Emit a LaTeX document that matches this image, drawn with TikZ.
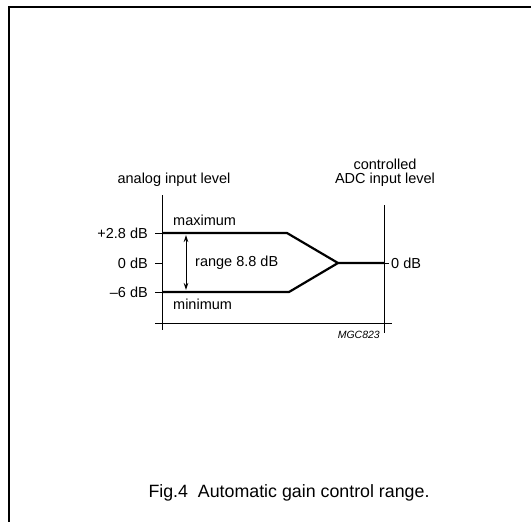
\documentclass[tikz,border=0pt]{standalone}
\usepackage{fontspec}
\setmainfont{Liberation Sans}
\usetikzlibrary{arrows.meta}
\begin{document}
\begin{tikzpicture}[x=1pt,y=-1pt,
  thinln/.style={line width=1pt},
  thickln/.style={line width=2.2pt},
  lbl/.style={inner sep=0pt,font=\fontsize{14.5}{16}\selectfont},
  frameln/.style={line width=2pt}]
\useasboundingbox (0,0) rectangle (531,522);
% frame
\coordinate (ftl) at (9,7);
\coordinate (ftr) at (531,7);
\coordinate (fbl) at (9,522);
\draw[frameln] (ftr) -- (ftl) -- (fbl);
% axes
\coordinate (lat) at (162,195);
\coordinate (lab) at (162,330);
\coordinate (rat) at (384,205);
\coordinate (rab) at (384,333);
\coordinate (bl) at (155,323);
\coordinate (br) at (392,323);
\draw[thinln] (lat) -- (lab);
\draw[thinln] (rat) -- (rab);
\draw[thinln] (bl) -- (br);
% ticks
\coordinate (tmax) at (155,233);
\coordinate (tzero) at (155,263);
\coordinate (tmin) at (155,292);
\draw[thinln] (tmax) -- (162,233);
\draw[thinln] (tzero) -- (162,263);
\draw[thinln] (tmin) -- (162,292);
\draw[thinln] (384,263) -- (389,263);
% level lines
\coordinate (maxs) at (162,233);
\coordinate (maxe) at (287,233);
\coordinate (mins) at (162,292);
\coordinate (mine) at (289,292);
\coordinate (meet) at (338,263);
\coordinate (outp) at (384,263);
\draw[thickln,line join=miter] (maxs) -- (maxe) -- (meet) -- (outp);
\draw[thickln] (mins) -- (mine) -- (meet);
% range arrow
\coordinate (ra) at (186,235);
\coordinate (rb) at (186,290);
\draw[thinln,{Stealth[length=7pt,width=4.5pt]}-{Stealth[length=7pt,width=4.5pt]}] (ra) -- (rb);
% labels
\node[lbl,anchor=east] (l1) at (148,233) {+2.8 dB};
\node[lbl,anchor=east] (l2) at (148,263) {0 dB};
\node[lbl,anchor=east] (l3) at (148,292) {\textendash6 dB};
\node[lbl,anchor=west] (mx) at (173,220) {maximum};
\node[lbl,anchor=west] (mn) at (173,304) {minimum};
\node[lbl,anchor=west] (rg) at (195,263) {range 8.8 dB};
\node[lbl] (al) at (174,180) {analog input level};
\node[inner sep=0pt,anchor=north,align=center,font=\fontsize{14.5}{14}\selectfont] (ctl) at (385,159) {controlled\\ADC input level};
\node[lbl,anchor=west] (od) at (391,263) {0 dB};
\node[inner sep=0pt,anchor=east,font=\fontsize{10.5}{12}\selectfont\itshape] (mgc) at (380,335) {MGC823};
\node[inner sep=0pt,font=\fontsize{17.8}{20}\selectfont] (cap) at (289,493) {Fig.4\ \ Automatic gain control range.};
\end{tikzpicture}
\end{document}
